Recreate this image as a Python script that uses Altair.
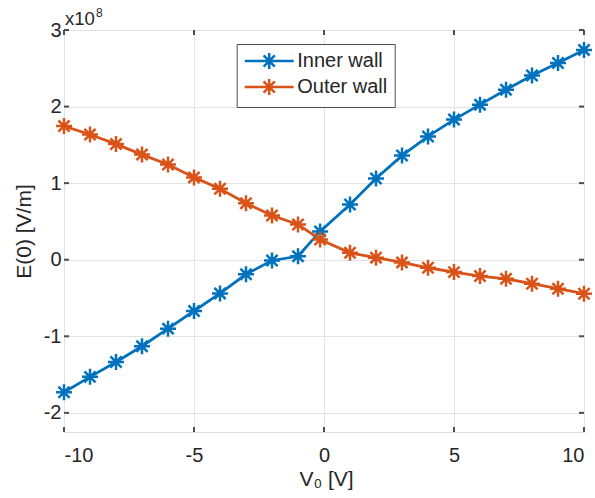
import altair as alt
import pandas as pd

# Data (E(0) in units of 1e8 V/m)
v0 = [-10, -9, -8, -7, -6, -5, -4, -3, -2, -1, -0.15, 1, 2, 3, 4, 5, 6, 7, 8, 9, 10]
inner_wall = [-1.73, -1.53, -1.335, -1.13, -0.90, -0.67, -0.44, -0.19, -0.01, 0.045,
              0.37, 0.72, 1.06, 1.36, 1.61, 1.83, 2.025, 2.22, 2.405, 2.57, 2.74]
outer_wall = [1.745, 1.635, 1.51, 1.373, 1.244, 1.075, 0.927, 0.737, 0.578, 0.461,
              0.265, 0.09, 0.027, -0.035, -0.105, -0.162, -0.214, -0.25, -0.313, -0.379, -0.444]
series_names = ["Inner wall", "Outer wall"]
series_colors = ["#0072BD", "#D95319"]
x_ticks = [-10, -5, 0, 5, 10]
y_ticks = [-2, -1, 0, 1, 2, 3]
exponent_base = ["x10"]
exponent_power = ["8"]

df = pd.concat([
    pd.DataFrame({"V0": v0, "E": inner_wall, "series": series_names[0]}),
    pd.DataFrame({"V0": v0, "E": outer_wall, "series": series_names[1]}),
], ignore_index=True)

W, H = 520, 402
FONT = "Liberation Sans"
TXT = "#262626"
AX = "#4d4d4d"
FS = 20

xscale = alt.Scale(domain=[-10, 10], nice=False, zero=False)
yscale = alt.Scale(domain=[-2.25, 3], nice=False, zero=False)

star = "M0,-1L0,1M-1,0L1,0M-0.7,-0.7L0.7,0.7M-0.7,0.7L0.7,-0.7"
legend_sym = ("M-3.06,0L3.06,0M0,-1L0,1M-1,0L1,0"
              "M-0.7,-0.7L0.7,0.7M-0.7,0.7L0.7,-0.7")

color = alt.Color(
    "series:N",
    scale=alt.Scale(domain=series_names, range=series_colors),
    legend=alt.Legend(
        orient="none", legendX=172.7, legendY=14, title=None,
        symbolType=legend_sym, symbolSize=256, symbolStrokeWidth=2.5,
        symbolFillColor="transparent", symbolOffset=15.5,
        labelFont=FONT, labelFontSize=FS, labelColor=TXT, labelOffset=18,
        strokeColor=AX, fillColor="white", padding=7, rowPadding=0,
        cornerRadius=0,
    ),
)

xaxis = alt.Axis(
    values=x_ticks, labelExpr="'' + datum.value", grid=True, gridColor="#e3e3e3",
    gridWidth=1, domain=False, ticks=False, labelFont=FONT, labelFontSize=FS,
    labelColor=TXT, labelPadding=13, title="V\u2080 [V]", titleFont=FONT,
    titleFontSize=FS + 1, titleFontWeight="normal", titleColor=TXT,
    titleX=262, titleY=53, titleBaseline="alphabetic", titleAlign="center",
)
yaxis = alt.Axis(
    values=y_ticks, labelExpr="'' + datum.value", grid=True, gridColor="#e3e3e3",
    gridWidth=1, domain=False, ticks=False, labelFont=FONT, labelFontSize=FS,
    labelColor=TXT, labelPadding=3, title="E(0) [V/m]", titleFont=FONT,
    titleFontSize=FS + 1, titleFontWeight="normal", titleColor=TXT,
    titleX=-40, titleY=201, titleAngle=270, titleAlign="center",
    titleBaseline="middle",
)

base = alt.Chart(df)
lines = base.mark_line(strokeWidth=2.8).encode(
    x=alt.X("V0:Q", scale=xscale, axis=xaxis),
    y=alt.Y("E:Q", scale=yscale, axis=yaxis),
    color=color,
)
points = base.mark_point(shape=star, size=256, filled=False, strokeWidth=2.5, opacity=1).encode(
    x=alt.X("V0:Q", scale=xscale),
    y=alt.Y("E:Q", scale=yscale),
    color=color,
)

xt = alt.Chart(pd.DataFrame({"t": x_ticks}))
yt = alt.Chart(pd.DataFrame({"t": y_ticks}))
tick_bottom = xt.mark_rule(color=AX, strokeWidth=2).encode(
    x=alt.X("t:Q", scale=xscale), y=alt.value(H), y2=alt.value(H - 5))
tick_top = xt.mark_rule(color=AX, strokeWidth=2).encode(
    x=alt.X("t:Q", scale=xscale), y=alt.value(0), y2=alt.value(5))
tick_left = yt.mark_rule(color=AX, strokeWidth=2).encode(
    y=alt.Y("t:Q", scale=yscale), x=alt.value(0), x2=alt.value(5))
tick_right = yt.mark_rule(color=AX, strokeWidth=2).encode(
    y=alt.Y("t:Q", scale=yscale), x=alt.value(W), x2=alt.value(W - 5))

exp_base = alt.Chart(pd.DataFrame({"t": exponent_base})).mark_text(
    font=FONT, fontSize=18.5, color=TXT, align="left", baseline="alphabetic"
).encode(text="t:N", x=alt.value(1), y=alt.value(-5))
exp_pow = alt.Chart(pd.DataFrame({"t": exponent_power})).mark_text(
    font=FONT, fontSize=12, color=TXT, align="left", baseline="alphabetic"
).encode(text="t:N", x=alt.value(32), y=alt.value(-13))

chart = alt.layer(
    tick_bottom, tick_top, tick_left, tick_right, lines, points, exp_base, exp_pow
).properties(
    width=W, height=H,
    autosize=alt.AutoSizeParams(type="none"),
    padding={"left": 64, "top": 30, "right": 11, "bottom": 66},
).configure_view(
    stroke=AX, strokeWidth=2,
).configure(background="white")

chart.save("out.html", embed_options={"renderer": "svg", "actions": False})
